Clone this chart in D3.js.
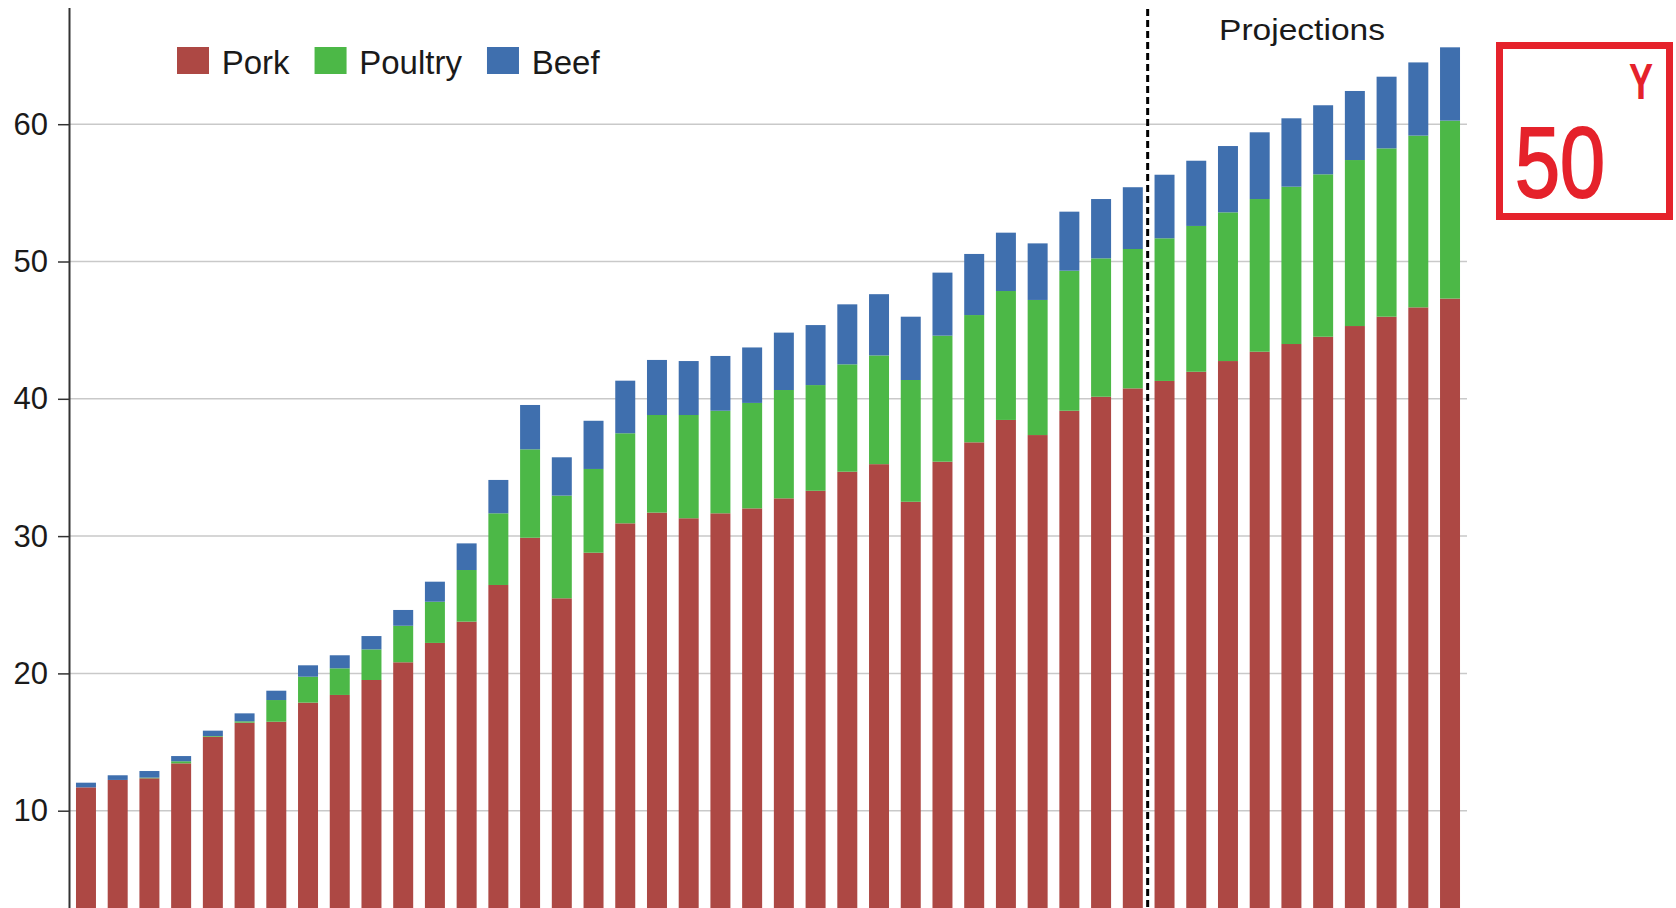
<!DOCTYPE html>
<html>
<head>
<meta charset="utf-8">
<script src="https://cdn.jsdelivr.net/npm/d3@7"></script>
<style>
  html, body { margin: 0; padding: 0; background: #fff; overflow: hidden; }
  svg { display: block; font-family: "Liberation Sans", Arial, sans-serif; }
</style>
</head>
<body>
<div class="canvas"></div>
<script>
/////////////////////////////////
//** DATA **//

// years (not labelled on the chart, 34 actual + 10 projected)
const years = d3.range(1979, 2023).map(String);
const lastActual = '2012';

const pork = [
  11.7, 12.24, 12.36, 13.45, 15.39, 16.41, 16.48, 17.87, 18.43, 19.52,
  20.81, 22.22, 23.77, 26.44, 29.88, 25.47, 28.79, 30.93, 31.71, 31.3,
  31.66, 32.02, 32.75, 33.3, 34.69, 35.24, 32.5, 35.42, 36.83, 38.46,
  37.36, 39.13, 40.15, 40.76, 41.3, 41.97, 42.75, 43.43, 43.99, 44.52,
  45.3, 45.98, 46.66, 47.3
];
const poultry = [
  0, 0, 0.05, 0.15, 0.05, 0.1, 1.58, 1.89, 1.94, 2.23,
  2.66, 3.0, 3.76, 5.22, 6.44, 7.48, 6.1, 6.56, 7.11, 7.52,
  7.47, 7.68, 7.89, 7.7, 7.82, 7.92, 8.87, 9.18, 9.27, 9.39,
  9.84, 10.2, 10.08, 10.15, 10.39, 10.62, 10.83, 11.12, 11.46, 11.83,
  12.09, 12.26, 12.51, 12.96
];
const beef = [
  0.34, 0.34, 0.48, 0.38, 0.39, 0.58, 0.68, 0.83, 0.95, 0.97,
  1.15, 1.46, 1.94, 2.43, 3.23, 2.79, 3.51, 3.83, 4.01, 3.93,
  3.99, 4.04, 4.18, 4.37, 4.37, 4.46, 4.61, 4.59, 4.45, 4.25,
  4.12, 4.3, 4.32, 4.5, 4.63, 4.75, 4.83, 4.86, 4.98, 5.03,
  5.03, 5.22, 5.33, 5.34
];

const seriesNames = ['Pork', 'Poultry', 'Beef'];
const yTicks = [10, 20, 30, 40, 50, 60];

/////////////////////////////////
//** DIMENSIONS **//

const dims = { width: 1676, height: 908 };
const plot = { left: 69, right: 1467, top: 7.5, bottom: 948 }; // bottom runs past the window

const colour = d3.scaleOrdinal()
  .domain(seriesNames)
  .range(['#ad4844', '#4cb847', '#3f6fae']);

// table for the stack
const table = years.map((yr, i) => ({ year: yr, Pork: pork[i], Poultry: poultry[i], Beef: beef[i] }));
const stacked = d3.stack().keys(seriesNames)(table);

const x = d3.scaleBand()
  .domain(years)
  .range([plot.left, plot.right])
  .paddingInner(0.37)
  .paddingOuter(0.22);

const y = d3.scaleLinear()
  .domain([0, 68.5])
  .range([plot.bottom, plot.top]);

/////////////////////////////////
//** SVG CONTAINER **//

const svg = d3.select('.canvas')
  .append('svg')
  .attr('width', dims.width)
  .attr('height', dims.height);

// gridlines
svg.append('g')
  .selectAll('line')
  .data(yTicks)
  .enter().append('line')
  .attr('x1', plot.left)
  .attr('x2', plot.right)
  .attr('y1', d => y(d))
  .attr('y2', d => y(d))
  .attr('stroke', '#c9c9c9')
  .attr('stroke-width', 1.5);

// bars
svg.append('g')
  .selectAll('g')
  .data(stacked)
  .enter().append('g')
  .attr('fill', d => colour(d.key))
  .selectAll('rect')
  .data(d => d)
  .enter().append('rect')
  .attr('x', d => x(d.data.year))
  .attr('width', x.bandwidth())
  .attr('y', d => y(d[1]))
  .attr('height', d => Math.max(0, y(d[0]) - y(d[1])));

// y axis
const yAxis = d3.axisLeft(y)
  .tickValues(yTicks)
  .tickSize(11)
  .tickSizeOuter(0)
  .tickPadding(10);

const gy = svg.append('g')
  .attr('transform', `translate(${plot.left}, 0)`)
  .call(yAxis);

gy.select('.domain').attr('stroke', '#333').attr('stroke-width', 2);
gy.selectAll('.tick line').attr('stroke', '#333').attr('stroke-width', 1.5);
gy.selectAll('.tick text')
  .attr('font-size', 31)
  .attr('fill', '#1a1a1a')
  .style('font-family', '"Liberation Sans", Arial, sans-serif');

// projections divider
const divX = x(lastActual) + x.bandwidth() + (x.step() - x.bandwidth()) / 2 - 1;
svg.append('line')
  .attr('x1', divX).attr('x2', divX)
  .attr('y1', 9).attr('y2', dims.height)
  .attr('stroke', '#000')
  .attr('stroke-width', 3)
  .attr('stroke-dasharray', '7,4');

svg.append('text')
  .attr('x', 1219)
  .attr('y', 40)
  .attr('font-size', 30)
  .attr('fill', '#1a1a1a')
  .attr('textLength', 166)
  .attr('lengthAdjust', 'spacingAndGlyphs')
  .text('Projections');

/////////////////////////////////
//** LEGEND **//

const legend = svg.append('g').attr('transform', 'translate(177, 47)');
let offset = 0;
seriesNames.forEach(name => {
  const item = legend.append('g').attr('transform', `translate(${offset}, 0)`);
  item.append('rect')
    .attr('width', 32)
    .attr('height', 27)
    .attr('fill', colour(name));
  const t = item.append('text')
    .attr('x', 44.7)
    .attr('y', 27)
    .attr('font-size', 33)
    .attr('fill', '#1a1a1a')
    .text(name);
  offset += 44.7 + t.node().getComputedTextLength() + 25;
});

/////////////////////////////////
//** RED BADGE **//

const badge = svg.append('g');
badge.append('rect')
  .attr('x', 1499.5).attr('y', 45.5)
  .attr('width', 170).attr('height', 171)
  .attr('fill', 'none')
  .attr('stroke', '#e5222b')
  .attr('stroke-width', 7);
badge.append('text')
  .attr('x', 1515).attr('y', 197)
  .attr('font-size', 100)
  .attr('fill', '#e5222b')
  .attr('stroke', '#e5222b')
  .attr('stroke-width', 2)
  .attr('textLength', 90)
  .attr('lengthAdjust', 'spacingAndGlyphs')
  .text('50');
badge.append('text')
  .attr('x', 1641).attr('y', 99)
  .attr('text-anchor', 'middle')
  .attr('font-size', 50)
  .attr('font-weight', 'bold')
  .attr('fill', '#e5222b')
  .attr('textLength', 24)
  .attr('lengthAdjust', 'spacingAndGlyphs')
  .text('Y');
</script>
</body>
</html>
